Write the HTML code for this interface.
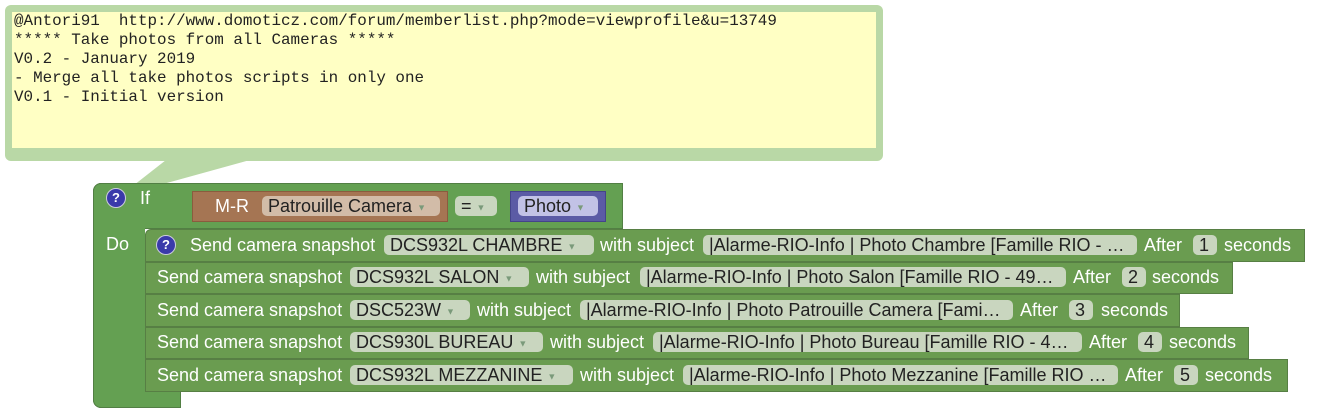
<!DOCTYPE html>
<html><head><style>
body{margin:0;width:1318px;height:419px;background:#fff;position:relative;overflow:hidden;font-family:"Liberation Sans",Arial,sans-serif}
div{position:absolute;box-sizing:border-box}
.g{background:#64a052;border:1px solid #527f44}
.r{background:#6a9c50;border:1px solid #577f44}
.t{color:#fff;font-size:18px;line-height:20px;white-space:nowrap}
.f{background:#c9d6bf;border-radius:5px;height:20px;color:#222;font-size:18px;line-height:20px;padding-left:6px;white-space:nowrap;overflow:hidden}
.dd{color:#7a9a7a;font-size:9px;vertical-align:middle}
.q{width:20px;height:20px;border-radius:50%;background:#3a3aaa;border:1px solid #ccd;color:#fff;font-size:13px;font-weight:bold;text-align:center;line-height:18px}
</style></head><body>
<div style="left:5px;top:5px;width:878px;height:156px;background:#b9d8a6;border-radius:6px"></div>
<div style="left:12px;top:12px;width:864px;height:136px;background:#ffffc4"></div>
<svg style="position:absolute;left:0;top:0" width="1318" height="419"><polygon points="120,196 166,160 250,160" fill="#b9d8a6"/></svg>
<div style="left:14px;top:12px;font-family:'Liberation Mono',monospace;font-size:15.9px;line-height:19px;color:#222;white-space:pre">@Antori91  http://www.domoticz.com/forum/memberlist.php?mode=viewprofile&amp;u=13749
***** Take photos from all Cameras *****
V0.2 - January 2019
- Merge all take photos scripts in only one
V0.1 - Initial version</div>
<div class="g" style="left:93px;top:183px;width:530px;height:46px;border-radius:8px 0 0 0"></div>
<div class="g" style="left:93px;top:183px;width:52px;height:225px;border-radius:8px 0 0 8px;border-right:none"></div>
<div class="g" style="left:93px;top:391px;width:88px;height:17px;border-radius:0 0 0 8px;border-top:none"></div>
<div style="left:94px;top:228px;width:50px;height:164px;background:#64a052"></div>
<div class="q" style="left:106px;top:188px">?</div>
<div class="t" style="left:140px;top:188px">If</div>
<div style="left:192px;top:191px;width:256px;height:31px;background:#a57553;border:1px solid #8a5c3e"></div>
<div class="t" style="left:215px;top:196px">M-R</div>
<div class="f" style="left:262px;top:196px;width:178px;background:#d2bca8">Patrouille Camera <span class="dd">▼</span></div>
<div class="f" style="left:455px;top:196px;width:42px">= <span class="dd">▼</span></div>
<div style="left:510px;top:191px;width:96px;height:31px;background:#5b5ba5;border:1px solid #44448a"></div>
<div class="f" style="left:518px;top:196px;width:80px;background:#c2c2e6">Photo <span class="dd">▼</span></div>
<div class="t" style="left:106px;top:234px">Do</div>
<div class="r" style="left:145px;top:229px;width:1160px;height:33px;border-radius:6px 0 0 0"></div>
<div class="r" style="left:145px;top:262px;width:1088px;height:32px"></div>
<div class="r" style="left:145px;top:294px;width:1035px;height:33px"></div>
<div class="r" style="left:145px;top:327px;width:1104px;height:32px"></div>
<div class="r" style="left:145px;top:359px;width:1143px;height:33px"></div>

<div class="q" style="left:156px;top:235px">?</div>
<div class="t" style="left:190px;top:235px">Send camera snapshot</div>
<div class="f" style="left:384px;top:235px;width:210px">DCS932L CHAMBRE <span class="dd">▼</span></div>
<div class="t" style="left:600px;top:235px">with subject</div>
<div class="f" style="left:703px;top:235px;width:434px">|Alarme-RIO-Info | Photo Chambre [Famille RIO - …</div>
<div class="t" style="left:1144px;top:235px">After</div>
<div class="f" style="left:1193px;top:235px;width:24px">1</div>
<div class="t" style="left:1224px;top:235px">seconds</div>

<div class="t" style="left:157px;top:267px">Send camera snapshot</div>
<div class="f" style="left:350px;top:267px;width:179px">DCS932L SALON <span class="dd">▼</span></div>
<div class="t" style="left:536px;top:267px">with subject</div>
<div class="f" style="left:640px;top:267px;width:426px">|Alarme-RIO-Info | Photo Salon [Famille RIO - 49…</div>
<div class="t" style="left:1073px;top:267px">After</div>
<div class="f" style="left:1122px;top:267px;width:24px">2</div>
<div class="t" style="left:1152px;top:267px">seconds</div>

<div class="t" style="left:157px;top:300px">Send camera snapshot</div>
<div class="f" style="left:350px;top:300px;width:120px">DSC523W <span class="dd">▼</span></div>
<div class="t" style="left:477px;top:300px">with subject</div>
<div class="f" style="left:580px;top:300px;width:433px">|Alarme-RIO-Info | Photo Patrouille Camera [Fami…</div>
<div class="t" style="left:1020px;top:300px">After</div>
<div class="f" style="left:1069px;top:300px;width:24px">3</div>
<div class="t" style="left:1101px;top:300px">seconds</div>

<div class="t" style="left:157px;top:332px">Send camera snapshot</div>
<div class="f" style="left:350px;top:332px;width:193px">DCS930L BUREAU <span class="dd">▼</span></div>
<div class="t" style="left:550px;top:332px">with subject</div>
<div class="f" style="left:653px;top:332px;width:429px">|Alarme-RIO-Info | Photo Bureau [Famille RIO - 4…</div>
<div class="t" style="left:1089px;top:332px">After</div>
<div class="f" style="left:1138px;top:332px;width:24px">4</div>
<div class="t" style="left:1169px;top:332px">seconds</div>

<div class="t" style="left:157px;top:365px">Send camera snapshot</div>
<div class="f" style="left:350px;top:365px;width:223px">DCS932L MEZZANINE <span class="dd">▼</span></div>
<div class="t" style="left:580px;top:365px">with subject</div>
<div class="f" style="left:683px;top:365px;width:435px">|Alarme-RIO-Info | Photo Mezzanine [Famille RIO …</div>
<div class="t" style="left:1125px;top:365px">After</div>
<div class="f" style="left:1174px;top:365px;width:24px">5</div>
<div class="t" style="left:1205px;top:365px">seconds</div>
</body></html>
